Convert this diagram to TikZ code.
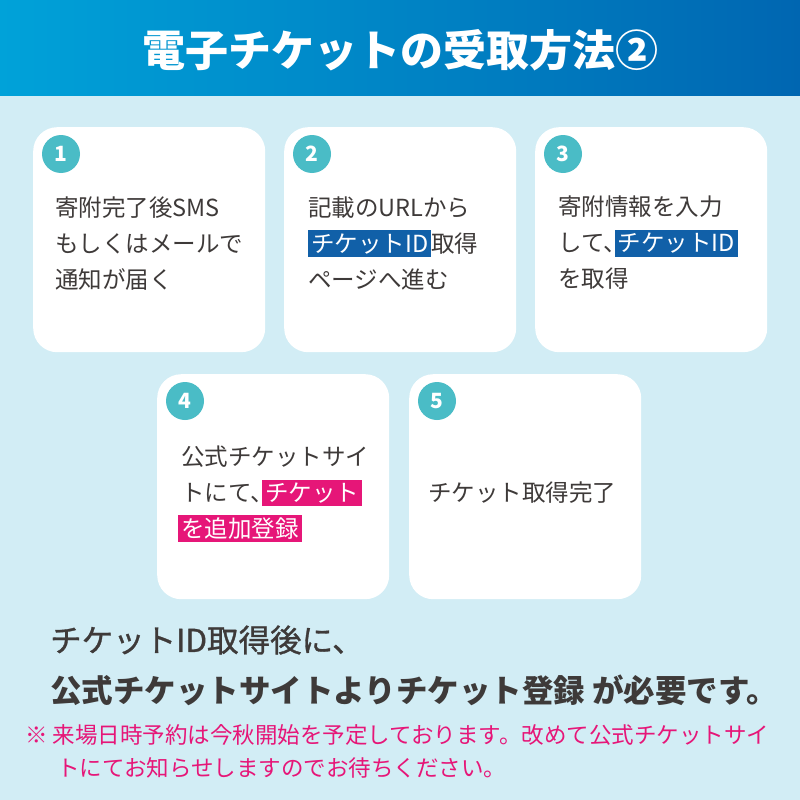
\documentclass[tikz,border=0pt]{standalone}
\usepackage{fontspec}
\setmainfont{Noto Sans CJK JP}
\definecolor{paleblue}{HTML}{D2EDF5}
\definecolor{headleft}{HTML}{00A2D9}
\definecolor{headright}{HTML}{0066B1}
\definecolor{badgeteal}{HTML}{4ABCC6}
\definecolor{idblue}{HTML}{1160A8}
\definecolor{tkpink}{HTML}{E61678}
\definecolor{ink}{HTML}{3E3A39}
\newcommand\hlbox[2]{{\setlength{\fboxsep}{3pt}\colorbox{#1}{\textcolor{white}{#2}}}}
\begin{document}
\begin{tikzpicture}[x=1pt,y=-1pt,font=\fontsize{23.5}{36}\selectfont,
	card/.style={fill=white,rounded corners=24pt,minimum width=232pt,minimum height=225pt,anchor=north west,inner sep=0pt},
	badge/.style={circle,fill=badgeteal,text=white,minimum size=38pt,inner sep=0pt,font=\fontsize{21}{21}\selectfont\bfseries},
	body/.style={anchor=west,align=left,inner sep=0pt,text=ink}]
	\useasboundingbox (0,0) rectangle (800,800);
	\fill[paleblue] (0,0) rectangle (800,800);
	\shade[left color=headleft,right color=headright] (0,0) rectangle (800,95);
	\node[text=white,font=\fontsize{43}{43}\selectfont\bfseries] (title) at (400,50) {電子チケットの受取方法②};
	\foreach \x/\y/\n in {33/127/1,284/127/2,535/127/3,157/374/4,409/374/5}{
		\node[card] (card\n) at (\x,\y) {};
		\node[badge] (num\n) at ([shift={(28,27)}]card\n.north west) {\n};
	}
	\node[body] (txt1) at (55,244) {寄附完了後SMS\\もしくはメールで\\通知が届く};
	\node[body] (txt2) at (308,243) {記載のURLから\\\hlbox{idblue}{チケットID}取得\\ページへ進む};
	\node[body] (txt3) at (558,243) {寄附情報を入力\\して、\kern-12pt\hlbox{idblue}{チケットID}\\を取得};
	\node[body] (txt4) at (181,494) {公式チケットサイ\\トにて、\kern-12pt\hlbox{tkpink}{チケット}\\\hspace*{-3pt}\hlbox{tkpink}{を追加登録}};
	\node[body] (txt5) at (428,493) {チケット取得完了};
	\node[body,font=\fontsize{31.5}{31.5}\selectfont\addfontfeature{FakeBold=1}] (lead1) at (50,640) {チケットID取得後に、};
	\node[body,font=\fontsize{31.5}{31.5}\selectfont\bfseries] (lead2) at (50,690) {公式チケットサイトよりチケット登録 が必要です。};
	\node[body,text=tkpink,font=\fontsize{22.5}{22.5}\selectfont] (memo1) at (25,735) {※ 来場日時予約は今秋開始を予定しております。改めて公式チケットサイ};
	\node[body,text=tkpink,font=\fontsize{22.5}{22.5}\selectfont] (memo2) at (57,768) {トにてお知らせしますのでお待ちください。};
\end{tikzpicture}
\end{document}
